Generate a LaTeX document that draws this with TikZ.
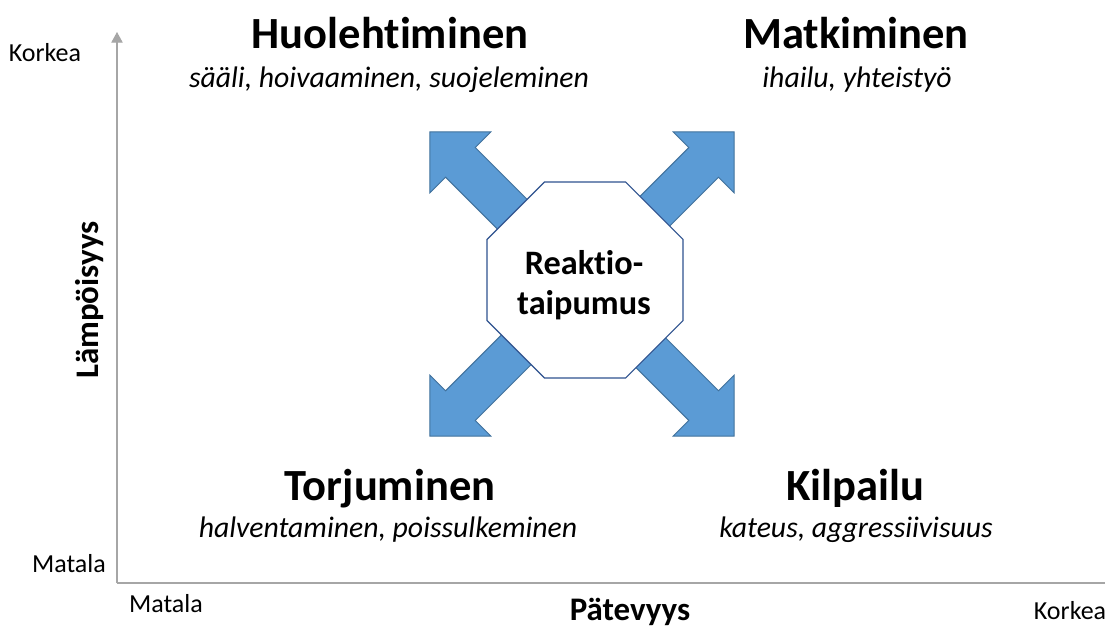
\documentclass[tikz,border=0pt]{standalone}
\usepackage{fontspec}
\setmainfont{Carlito}[Ligatures=NoCommon]
\usetikzlibrary{arrows.meta}
\definecolor{arrowfill}{HTML}{5B9BD5}
\definecolor{arrowline}{HTML}{41719C}
\definecolor{octline}{HTML}{2F528F}
\definecolor{axisgray}{HTML}{A6A6A6}
\begin{document}
\begin{tikzpicture}[x=0.75pt,y=-0.75pt,
  blockarrow/.style={fill=arrowfill,draw=arrowline,line width=0.75pt,line join=miter},
  octshape/.style={fill=white,draw=octline,line width=0.9pt},
  heading/.style={anchor=base,font=\fontsize{33.4}{40}\selectfont\bfseries,inner sep=0pt},
  subtitle/.style={anchor=base,font=\fontsize{22.3}{27}\selectfont\itshape,inner sep=0pt},
  axislabel/.style={anchor=base,font=\fontsize{19.5}{23}\selectfont,inner sep=0pt},
  axistitle/.style={anchor=base,font=\fontsize{24.7}{29}\selectfont\bfseries,inner sep=0pt},
  centertext/.style={font=\fontsize{25.7}{30}\selectfont\bfseries,align=center,inner sep=0pt},
  axisline/.style={draw=axisgray,line width=0.9pt}
]
\clip (0,0) rectangle (1105,630);
\fill[white] (0,0) rectangle (1105,630);

% axes
\coordinate (origin) at (117,583);
\coordinate (ytop) at (117,32);
\coordinate (xend) at (1117,583);
\draw[axisline,-{Triangle[width=8.5pt,length=8pt]}] (origin) -- (ytop);
\draw[axisline,-{Triangle[width=8.5pt,length=8pt]}] (origin) -- (xend);

% arrows
\coordinate (ac) at (582,284);
\foreach \ang in {45,135,225,315}{
  \draw[blockarrow,shift={(ac)},rotate=\ang]
    (60,-21) -- (172,-21) -- (172,-43) -- (215,0) -- (172,43) -- (172,21) -- (60,21) -- cycle;
}

% octagon
\draw[octshape] (544.4,182) -- (625.6,182) -- (683,239.4) -- (683,320.6) -- (625.6,378) -- (544.4,378) -- (487,320.6) -- (487,239.4) -- cycle;
\node[centertext] (center) at (584,285) {Reaktio-\\taipumus};

% quadrant texts
\node[heading] (h1) at (390,49) {Huolehtiminen};
\node[subtitle] (s1) at (389,88) {sääli, hoivaaminen, suojeleminen};
\node[heading] (h2) at (856,49) {Matkiminen};
\node[subtitle] (s2) at (857,88) {ihailu, yhteistyö};
\node[heading] (h3) at (390,500) {Torjuminen};
\node[subtitle] (s3) at (388,537) {halventaminen, poissulkeminen};
\node[heading] (h4) at (855,500) {Kilpailu};
\node[subtitle] (s4) at (856,537) {kateus, aggressiivisuus};

% axis labels
\node[axislabel] (yhigh) at (45,62) {Korkea};
\node[axislabel] (ylow) at (69,572) {Matala};
\node[axislabel] (xlow) at (166,612) {Matala};
\node[axislabel] (xhigh) at (1070,619) {Korkea};
\node[axistitle] (xtitle) at (630,620) {Pätevyys};
\node[axistitle,rotate=90] (ytitle) at (98,300) {Lämpöisyys};
\end{tikzpicture}
\end{document}
